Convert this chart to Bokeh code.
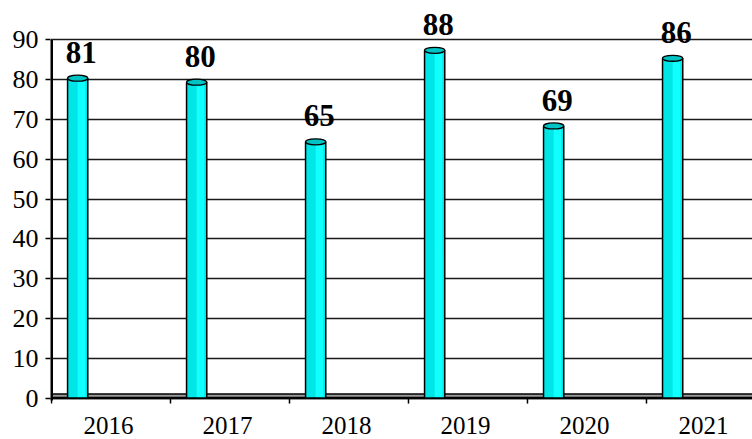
from bokeh.plotting import figure
from bokeh.models import Range1d, FixedTicker, ColumnDataSource
from bokeh.core.properties import value
from bokeh.embed import file_html
from bokeh.resources import INLINE

# ---- data ----
years = ["2016", "2017", "2018", "2019", "2020", "2021"]
scores = [81, 80, 65, 88, 69, 86]
y_ticks = [0, 10, 20, 30, 40, 50, 60, 70, 80, 90]

# ---- layout constants (style / geometry) ----
PX_PER_UNIT = 3.978          # vertical pixels per value unit
Y_END = 97.41
Y_START = -10.43
X_START = -0.0084
X_END = 5.891
BAR_OFF = 0.22               # bar centre offset inside category
BAR_W = 0.17
CAP_H = 1.5                  # cylinder top ellipse height (value units)
CAP_DROP = 0.6
LABEL_GAP = 5.9
CAT_LABEL_Y = -6.9
FONT = "Liberation Serif"

n = len(years)
idx = list(range(n))
centers = [i + BAR_OFF for i in idx]
body_top = [v - CAP_DROP for v in scores]

src = ColumnDataSource(dict(
    x=centers,
    top=body_top,
    cap_y=body_top,
    stripe_l=[c for c in centers],
    stripe_r=[c + BAR_W / 2 - 0.02 for c in centers],
    lab_x=[c + 0.03 for c in centers],
    lab_y=[v + LABEL_GAP for v in scores],
    lab=[str(v) for v in scores],
))

p = figure(width=752, height=439, output_backend="svg", toolbar_location=None,
           x_range=Range1d(X_START, X_END), y_range=Range1d(Y_START, Y_END),
           x_axis_location=None, title=None,
           min_border_left=50, min_border_right=0, min_border_top=10, min_border_bottom=0)
p.outline_line_color = None
p.background_fill_color = "white"
p.xgrid.grid_line_color = None
p.xgrid.visible = False

# y axis
p.yaxis.ticker = FixedTicker(ticks=y_ticks)
p.yaxis.axis_line_color = None
p.yaxis.major_tick_out = 5
p.yaxis.major_tick_in = 0
p.yaxis.minor_tick_line_color = None
p.yaxis.major_tick_line_color = "black"
p.yaxis.major_tick_line_width = 1.5
p.yaxis.major_label_standoff = 7
p.yaxis.major_label_text_font = FONT
p.yaxis.major_label_text_font_size = "26px"
p.yaxis.major_label_text_color = "black"

p.ygrid.grid_line_color = "#1a1a1a"
p.ygrid.grid_line_width = 1.6

# floor band
p.quad(left=[0], right=[X_END], bottom=[0], top=[1.0], fill_color="#9a9a9a", line_color=None)
p.segment(x0=[0], y0=[1.0], x1=[X_END], y1=[1.0], line_color="black", line_width=1.5)
p.segment(x0=[0], y0=[0], x1=[X_END], y1=[0], line_color="black", line_width=2.5)

# x ticks at category boundaries
bounds = list(range(n + 1))
p.segment(x0=bounds, y0=[0] * len(bounds), x1=bounds, y1=[-1.4] * len(bounds),
          line_color="black", line_width=1.5)

# y axis line
p.segment(x0=[0], y0=[-0.6], x1=[0], y1=[max(y_ticks)], line_color="black", line_width=3)

# bars (cylinders)
p.vbar(x="x", width=BAR_W, bottom=0, top="top", source=src,
       fill_color="#00e6e6", line_color=None)
p.quad(left="stripe_l", right="stripe_r", bottom=0, top="top", source=src,
       fill_color="#10ffff", line_color=None)
p.vbar(x="x", width=BAR_W, bottom=0, top="top", source=src,
       fill_color=None, line_color="black", line_width=1.5)
p.ellipse(x="x", y="cap_y", width=BAR_W, height=CAP_H, source=src,
          fill_color="#00c4c4", line_color="black", line_width=1.3)

# value labels
p.text(x="lab_x", y="lab_y", text="lab", source=src,
       text_font=value(FONT), text_font_style="bold", text_font_size="31px",
       text_align="center", text_baseline="alphabetic", text_color="black")

# category labels
cat_src = ColumnDataSource(dict(
    x=[i + 0.48 for i in idx],
    y=[CAT_LABEL_Y] * n,
    t=years,
))
p.text(x="x", y="y", text="t", source=cat_src,
       text_font=value(FONT), text_font_size="25px",
       text_align="center", text_baseline="alphabetic", text_color="black")

open("out.html", "w").write(file_html(p, INLINE))
